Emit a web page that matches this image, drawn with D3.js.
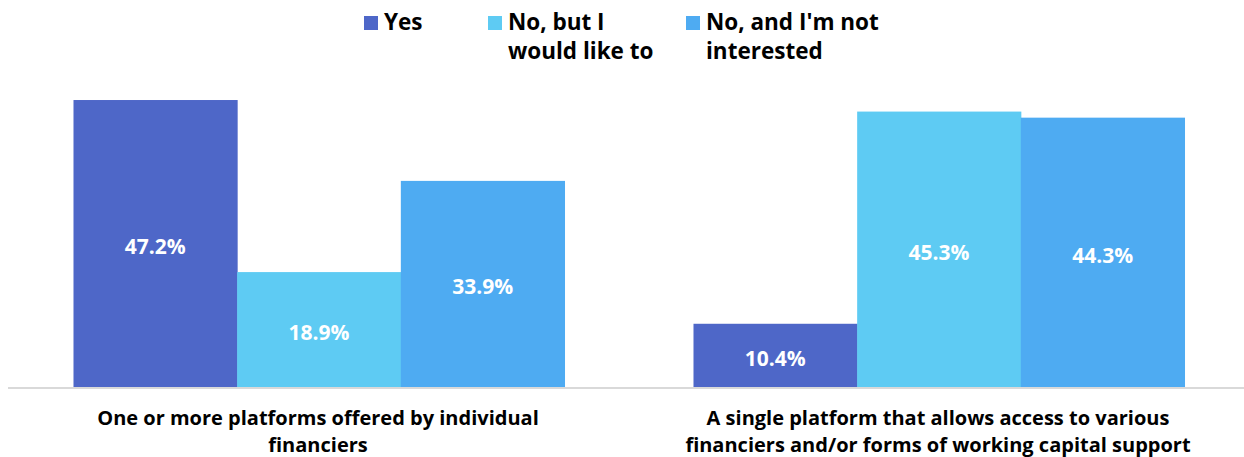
<!DOCTYPE html>
<html>
<head>
<meta charset="utf-8">
<script src="https://cdn.jsdelivr.net/npm/d3@7"></script>
<style>
  body { margin: 0; background: #fff; }
  text { font-family: "Open Sans", "Noto Sans", sans-serif; font-weight: bold; }
</style>
</head>
<body>
<div id="chart"></div>
<script>

// data
const categories = [
    ["One or more platforms offered by individual", "financiers"],
    ["A single platform that allows access to various", "financiers and/or forms of working capital support"]
];
const seriesNames = ["Yes", "No, but I would like to", "No, and I'm not interested"];
const legendLines = [["Yes"], ["No, but I", "would like to"], ["No, and I'm not", "interested"]];
const yesValues = [47.2, 10.4];
const noButValues = [18.9, 45.3];
const noAndValues = [33.9, 44.3];

const colors = ["#4e67c8", "#5ecbf3", "#4eabf2"];

const width = 1244, height = 457;
const baseline = 387;

const svg = d3.select("#chart").append("svg")
    .attr("width", width)
    .attr("height", height);

const catKeys = categories.map((d, i) => i);
const series = [yesValues, noButValues, noAndValues];

const x0 = d3.scaleBand()
    .domain(catKeys)
    .range([9, 1249]);

const x1 = d3.scaleBand()
    .domain(seriesNames)
    .range([0, x0.bandwidth()])
    .paddingOuter(0.394);

const y = d3.scaleLinear()
    .domain([0, 50])
    .range([baseline, baseline - 304]);

// flat list of bars
let bars = [];
catKeys.forEach(c => {
    seriesNames.forEach((s, si) => {
        bars.push({ cat: c, name: s, idx: si, value: series[si][c] });
    });
});

const g = svg.append("g");

g.selectAll("rect")
    .data(bars)
    .enter()
    .append("rect")
    .attr("x", d => x0(d.cat) + x1(d.name))
    .attr("y", d => y(d.value))
    .attr("width", x1.bandwidth() + 0.5)
    .attr("height", d => baseline - y(d.value))
    .attr("fill", d => colors[d.idx]);

g.selectAll("text.val")
    .data(bars)
    .enter()
    .append("text")
    .attr("class", "val")
    .attr("x", d => x0(d.cat) + x1(d.name) + x1.bandwidth() / 2)
    .attr("y", d => (y(d.value) + baseline) / 2 + 3)
    .attr("dy", "0.35em")
    .attr("text-anchor", "middle")
    .attr("fill", "#fff")
    .style("font-size", "21px")
    .text(d => d.value.toFixed(1) + "%");

// axis line
svg.append("line")
    .attr("x1", 8)
    .attr("x2", width)
    .attr("y1", baseline + 1)
    .attr("y2", baseline + 1)
    .attr("stroke", "#d9d9d9")
    .attr("stroke-width", 2);

// category labels
const catLabel = svg.selectAll("text.cat")
    .data(catKeys)
    .enter()
    .append("text")
    .attr("class", "cat")
    .attr("text-anchor", "middle")
    .attr("fill", "#000")
    .style("font-size", "20px");

catLabel.selectAll("tspan")
    .data(c => categories[c].map(t => ({ c: c, t: t })))
    .enter()
    .append("tspan")
    .attr("x", d => x0(d.c) + x0.bandwidth() / 2 - 1)
    .attr("y", (d, i) => 425 + i * 27)
    .text(d => d.t);

// legend
const legendX = [364, 488, 686];
const legend = svg.selectAll("g.legend")
    .data(seriesNames)
    .enter()
    .append("g")
    .attr("class", "legend")
    .attr("transform", (d, i) => "translate(" + legendX[i] + ",0)");

legend.append("rect")
    .attr("x", 0)
    .attr("y", 16)
    .attr("width", 14)
    .attr("height", 14)
    .attr("fill", (d, i) => colors[i]);

legend.append("text")
    .attr("fill", "#000")
    .style("font-size", "22.5px")
    .selectAll("tspan")
    .data((d, i) => legendLines[i])
    .enter()
    .append("tspan")
    .attr("x", 20)
    .attr("y", (d, i) => 30 + i * 29)
    .text(d => d);

</script>
</body>
</html>
